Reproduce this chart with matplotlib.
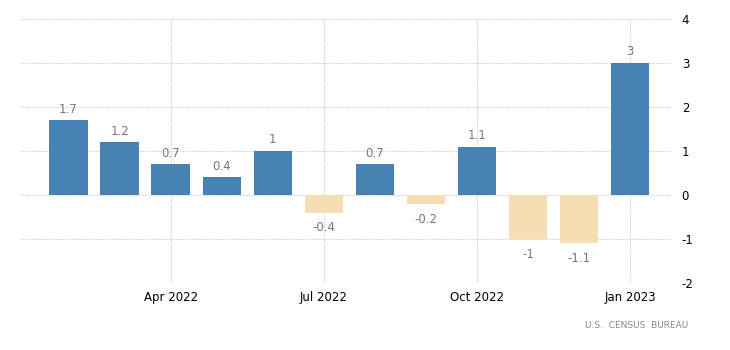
import numpy as np
import matplotlib.pyplot as plt

plt.rcParams['axes.unicode_minus'] = False

# Monthly values, Feb 2022 - Jan 2023
months = ['Feb 2022', 'Mar 2022', 'Apr 2022', 'May 2022', 'Jun 2022', 'Jul 2022',
          'Aug 2022', 'Sep 2022', 'Oct 2022', 'Nov 2022', 'Dec 2022', 'Jan 2023']
values = [1.7, 1.2, 0.7, 0.4, 1, -0.4, 0.7, -0.2, 1.1, -1, -1.1, 3]
tick_labels = ['Apr 2022', 'Jul 2022', 'Oct 2022', 'Jan 2023']
source = 'U.S.  CENSUS  BUREAU'

x = np.arange(len(months))
colors = ['#4682b4' if v >= 0 else '#f5deb3' for v in values]

fig = plt.figure(figsize=(7.3, 3.5), dpi=100)
ax = fig.add_axes([20 / 730, 1 - 283 / 350, (672 - 20) / 730, 264 / 350])

ax.bar(x, values, width=0.75, color=colors, zorder=2)

for xi, v in zip(x, values):
    label = f'{v:g}'
    if v >= 0:
        ax.annotate(label, (xi, v), xytext=(0, 8), textcoords='offset points',
                    ha='center', va='center', fontsize=8.5, color='#777777')
    else:
        ax.annotate(label, (xi, v), xytext=(0, -11), textcoords='offset points',
                    ha='center', va='center', fontsize=8.5, color='#777777')

ax.set_xlim(-0.95, 11.82)
ax.set_ylim(-2, 4)
ax.set_yticks([-2, -1, 0, 1, 2, 3, 4])
ax.set_xticks([months.index(t) for t in tick_labels])
ax.set_xticklabels(tick_labels)

ax.yaxis.tick_right()
ax.tick_params(axis='both', length=0, labelsize=8.5, colors='black')
ax.tick_params(axis='y', pad=7)
ax.tick_params(axis='x', pad=6)

ax.grid(True, linestyle=(0, (1, 1)), color='#cccccc', linewidth=0.8, zorder=0)
for s in ax.spines.values():
    s.set_visible(False)

fig.text(688 / 730, 1 - 325 / 350, source, ha='right', va='center',
         fontsize=6.5, color='#888888')

fig.savefig('out.png', dpi=100)
